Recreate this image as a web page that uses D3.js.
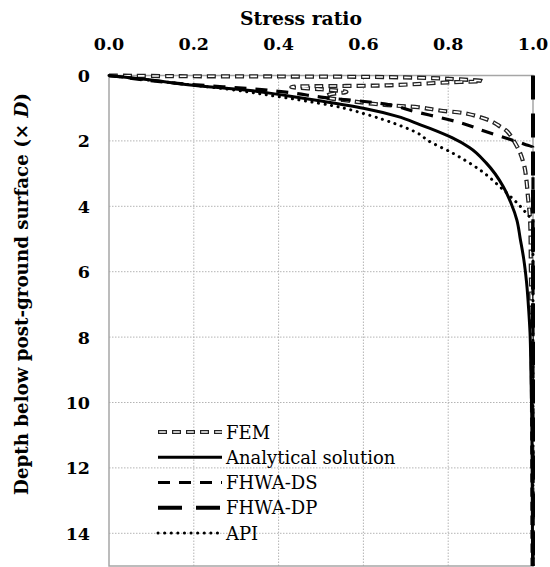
<!DOCTYPE html>
<html><head><meta charset="utf-8"><script src="https://cdn.jsdelivr.net/npm/d3@7"></script></head>
<body style="margin:0">
<svg id="s" width="550" height="567"></svg>
<script>
// ---- data: stress ratio (r) against depth below post-ground surface (d, in pile diameters)
const xTicks = [0.0, 0.2, 0.4, 0.6, 0.8, 1.0];
const yTicks = [0, 2, 4, 6, 8, 10, 12, 14];

const femRatio = [0, 0.15, 0.4, 0.66, 0.8, 0.88, 0.8, 0.66, 0.43, 0.5, 0.56, 0.52, 0.51, 0.57, 0.65, 0.73, 0.78, 0.845, 0.9, 0.92, 0.94, 0.958, 0.97, 0.98, 0.985, 0.988, 0.993, 0.995, 0.997, 0.998, 0.999];
const femDepth = [0, 0.02, 0.03, 0.05, 0.1, 0.17, 0.21, 0.3, 0.35, 0.42, 0.5, 0.58, 0.65, 0.78, 0.9, 0.97, 1.07, 1.17, 1.39, 1.54, 1.72, 2.07, 2.38, 2.8, 3.26, 3.7, 4.4, 6, 8, 11, 15];

const anaRatio = [0, 0.1, 0.186, 0.333, 0.42, 0.5, 0.6, 0.68, 0.733, 0.757, 0.81, 0.85, 0.89, 0.93, 0.948, 0.962, 0.97, 0.978, 0.985, 0.99, 0.993, 0.995, 0.997, 0.998, 0.999];
const anaDepth = [0, 0.14, 0.28, 0.46, 0.62, 0.78, 1.0, 1.25, 1.5, 1.62, 1.91, 2.2, 2.68, 3.4, 3.9, 4.42, 5.0, 5.6, 6.35, 7.2, 7.87, 9, 10.4, 12, 15];

const dsRatio = [0, 0.19, 0.36, 0.43, 0.5, 0.64, 0.72, 0.83, 0.89, 0.945, 0.98, 1.0, 1.0];
const dsDepth = [0, 0.27, 0.43, 0.53, 0.66, 0.85, 1.1, 1.45, 1.72, 1.95, 2.1, 2.2, 15];

const dpRatio = [1.0, 1.0];
const dpDepth = [0, 15];

const apiRatio = [0, 0.1, 0.2, 0.3, 0.396, 0.45, 0.53, 0.61, 0.68, 0.733, 0.75, 0.81, 0.875, 0.93, 0.97, 0.988, 1.0, 1.0];
const apiDepth = [0, 0.15, 0.3, 0.45, 0.64, 0.75, 0.93, 1.2, 1.5, 1.8, 1.97, 2.37, 2.89, 3.5, 4.0, 4.27, 4.45, 15];

const seriesNames = ["FEM", "Analytical solution", "FHWA-DS", "FHWA-DP", "API"];

// ---- layout
const FONT = "DejaVu Serif";
const svg = d3.select("#s");
const x = d3.scaleLinear().domain([0, 1]).range([109, 533]);
const y = d3.scaleLinear().domain([0, 15]).range([75.5, 566]);

const zip = (rs, ds) => rs.map((r, i) => ({ r: r, d: ds[i] }));
// depth-monotone series: monotone spline keeps the curve from bulging past r = 1
const lineMono = d3.line().x(p => x(p.r)).y(p => y(p.d)).curve(d3.curveMonotoneY);
// FEM folds back near the surface, so it uses a Catmull-Rom spline
const lineFem = d3.line().x(p => x(p.r)).y(p => y(p.d)).curve(d3.curveCatmullRom.alpha(0.5));

// scale a text's font size so that it spans the given width
function fitWidth(sel, width) {
  const fs = parseFloat(sel.attr("font-size"));
  const len = sel.node().getComputedTextLength();
  if (len > 0) sel.attr("font-size", (fs * width / len).toFixed(2));
}

// ---- grid
const grid = svg.append("g");
grid.selectAll("line.v").data([0.2, 0.4, 0.6, 0.8]).join("line")
  .attr("x1", d => x(d)).attr("x2", d => x(d))
  .attr("y1", y(0)).attr("y2", y(15))
  .attr("stroke", "#b4b4b4").attr("stroke-width", 1).attr("stroke-dasharray", "1.5 1.5");
grid.selectAll("line.h").data(d3.range(2, 15, 2)).join("line")
  .attr("y1", d => y(d)).attr("y2", d => y(d))
  .attr("x1", x(0)).attr("x2", x(1))
  .attr("stroke", "#b4b4b4").attr("stroke-width", 1).attr("stroke-dasharray", "1.5 1.5");

// plot frame
svg.append("rect")
  .attr("x", x(0)).attr("y", y(0))
  .attr("width", x(1) - x(0)).attr("height", y(15) - y(0))
  .attr("fill", "none").attr("stroke", "#a6a6a6").attr("stroke-width", 1.5);

// ---- axis labels placed from the scales
svg.append("g").selectAll("text").data(xTicks).join("text")
  .attr("x", d => x(d)).attr("y", 50)
  .attr("text-anchor", "middle")
  .attr("font-size", 17.5).attr("font-weight", "bold")
  .style("font-family", FONT)
  .text(d3.format(".1f"));

svg.append("g").selectAll("text").data(yTicks).join("text")
  .attr("x", x(0) - 19).attr("y", d => y(d) + 6.5)
  .attr("text-anchor", "end")
  .attr("font-size", 17.5).attr("font-weight", "bold")
  .style("font-family", FONT)
  .text(d3.format("d"));

const xTitle = svg.append("text")
  .attr("x", 301).attr("y", 25)
  .attr("text-anchor", "middle")
  .attr("font-size", 18).attr("font-weight", "bold")
  .style("font-family", FONT)
  .text("Stress ratio");
fitWidth(xTitle, 122);

const yTitle = svg.append("text")
  .attr("transform", "translate(28,294) rotate(-90)")
  .attr("text-anchor", "middle")
  .attr("font-size", 18).attr("font-weight", "bold")
  .style("font-family", FONT);
yTitle.append("tspan").text("Depth below post-ground surface (\u00d7 ");
yTitle.append("tspan").attr("font-style", "italic").text("D");
yTitle.append("tspan").text(")");
fitWidth(yTitle, 402);

// ---- line styles
function drawFem(g, pathD) {
  g.append("path").attr("d", pathD).attr("fill", "none")
    .attr("stroke", "#222").attr("stroke-width", 4.2).attr("stroke-dasharray", "9 5");
  g.append("path").attr("d", pathD).attr("fill", "none")
    .attr("stroke", "#fff").attr("stroke-width", 1.6)
    .attr("stroke-dasharray", "6.6 7.4").attr("stroke-dashoffset", -1.2);
}
const styles = {
  "Analytical solution": { w: 3, dash: null, cap: "butt" },
  "FHWA-DS": { w: 3.2, dash: "12 9", cap: "butt" },
  "FHWA-DP": { w: 4, dash: "24 14", cap: "butt" },
  "API": { w: 3, dash: "0.1 6.5", cap: "round" }
};
function drawStyled(g, pathD, name) {
  const s = styles[name];
  const p = g.append("path").attr("d", pathD).attr("fill", "none")
    .attr("stroke", "#000").attr("stroke-width", s.w).attr("stroke-linecap", s.cap);
  if (s.dash) p.attr("stroke-dasharray", s.dash);
}

// ---- series
const plot = svg.append("g");
drawFem(plot.append("g"), lineFem(zip(femRatio, femDepth)));
drawStyled(plot, lineMono(zip(apiRatio, apiDepth)), "API");
drawStyled(plot, lineMono(zip(dsRatio, dsDepth)), "FHWA-DS");
drawStyled(plot, lineMono(zip(anaRatio, anaDepth)), "Analytical solution");
drawStyled(plot, lineMono(zip(dpRatio, dpDepth)), "FHWA-DP");

// ---- legend
const legend = svg.append("g");
const legY = d3.scalePoint().domain(seriesNames).range([432, 533]);
seriesNames.forEach(name => {
  const yy = legY(name);
  const seg = `M158,${yy}L222,${yy}`;
  if (name === "FEM") drawFem(legend.append("g"), seg);
  else drawStyled(legend, seg, name);
  legend.append("text")
    .attr("x", 226).attr("y", yy + 6.5)
    .attr("font-size", 18)
    .style("font-family", FONT)
    .text(name);
});
</script>
</body>
</html>
